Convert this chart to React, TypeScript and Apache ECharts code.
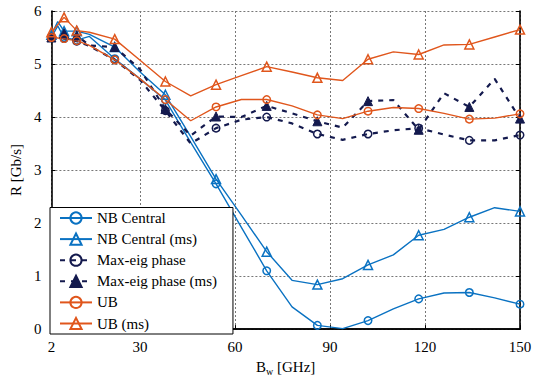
import React, { useEffect, useRef } from "react";
import * as echarts from "echarts";

const xs = [2, 4, 6, 10, 14, 22, 30, 38, 46, 54, 62, 70, 78, 86, 94, 102, 110, 118, 126, 134, 142, 150];
const markerXs = [2, 6, 10, 22, 38, 54, 70, 86, 102, 118, 134, 150];

const nbCentral = [5.5, 5.72, 5.5, 5.45, 5.52, 5.1, 4.72, 4.32, 3.52, 2.74, 1.92, 1.1, 0.42, 0.07, 0.01, 0.16, 0.38, 0.57, 0.68, 0.69, 0.59, 0.47];
const nbCentralMs = [5.55, 5.8, 5.62, 5.62, 5.56, 5.32, 4.85, 4.42, 3.63, 2.83, 2.15, 1.46, 0.92, 0.84, 0.95, 1.21, 1.4, 1.77, 1.88, 2.11, 2.29, 2.22];
const maxEig = [5.5, 5.49, 5.48, 5.43, 5.34, 5.08, 4.7, 4.12, 3.5, 3.79, 3.95, 4.0, 3.88, 3.68, 3.57, 3.68, 3.75, 3.79, 3.67, 3.56, 3.56, 3.66];
const maxEigMs = [5.5, 5.55, 5.58, 5.54, 5.35, 5.32, 4.9, 4.15, 3.65, 4.01, 4.0, 4.21, 4.07, 3.92, 3.8, 4.3, 4.32, 3.76, 4.45, 4.19, 4.72, 3.97];
const ub = [5.5, 5.49, 5.48, 5.44, 5.35, 5.08, 4.72, 4.33, 3.93, 4.19, 4.33, 4.33, 4.21, 4.04, 3.97, 4.11, 4.18, 4.16, 4.07, 3.96, 3.98, 4.06];
const ubMs = [5.6, 5.74, 5.88, 5.63, 5.6, 5.47, 5.07, 4.67, 4.4, 4.61, 4.78, 4.95, 4.85, 4.74, 4.69, 5.09, 5.23, 5.18, 5.36, 5.37, 5.51, 5.65];

const seriesNames = ["NB Central", "NB Central (ms)", "Max-eig phase", "Max-eig phase (ms)", "UB", "UB (ms)"];
const xTicks = [2, 30, 60, 90, 120, 150];

const BLUE = "#0a72c2";
const NAVY = "#141a4e";
const ORANGE = "#e0561c";
const FONT = "Times New Roman, Liberation Serif, Tinos, DejaVu Serif, Noto Serif, serif";

function buildData(vals: number[]) {
  return xs.map((x, i) =>
    markerXs.includes(x) ? { value: [x, vals[i]] } : { value: [x, vals[i]], symbol: "none" }
  );
}

function mkSeries(name: string, vals: number[], color: string, symbol: string, filled: boolean, dashed: boolean) {
  return {
    name,
    type: "line",
    data: buildData(vals),
    color,
    symbol,
    symbolSize: symbol === "triangle" ? 9 : 7.5,
    showSymbol: true,
    lineStyle: { color, width: dashed ? 2.2 : 1.4, type: dashed ? [5, 6] : "solid" },
    itemStyle: filled
      ? { color, borderColor: color, borderWidth: 1 }
      : { color: "rgba(255,255,255,0)", borderColor: color, borderWidth: 1.5 },
    emphasis: { disabled: true },
  };
}

export default function App() {
  const ref = useRef<HTMLDivElement>(null);
  useEffect(() => {
    document.body.style.margin = "0";
    const chart = echarts.init(ref.current!, null, { renderer: "svg" });
    const axisLine = { show: true, lineStyle: { color: "#000", width: 1.6 } };
    chart.setOption({
      animation: false,
      backgroundColor: "#fff",
      textStyle: { fontFamily: FONT },
      grid: { left: 41, right: 25, top: 11, bottom: 46.5 },
      legend: {
        data: seriesNames,
        orient: "vertical",
        left: 50,
        top: 207.5,
        itemWidth: 32,
        itemHeight: 14,
        itemGap: 6.1,
        padding: [3, 16, 3, 9],
        backgroundColor: "#fff",
        borderColor: "#000",
        borderWidth: 1,
        borderRadius: 0,
        textStyle: { fontFamily: FONT, fontSize: 15, color: "#000" },
      },
      xAxis: [
        {
          type: "value",
          min: 2,
          max: 150,
          name: "B{s|w} [GHz]",
          nameLocation: "middle",
          nameGap: 15,
          nameTextStyle: {
            fontFamily: FONT,
            fontSize: 15,
            color: "#000",
            rich: { s: { fontFamily: FONT, fontSize: 10, padding: [9, 0, 0, 0], color: "#000" } },
          },
          axisLine,
          axisTick: { show: true, inside: true, length: 4, customValues: xTicks, lineStyle: { color: "#000" } },
          axisLabel: { customValues: xTicks, fontFamily: FONT, fontSize: 15, color: "#000", margin: 10 },
          splitLine: { show: true, lineStyle: { color: "#777", width: 1, type: [2, 2] } },
        },
        {
          type: "value",
          position: "top",
          min: 2,
          max: 150,
          axisLine,
          axisTick: { show: false },
          axisLabel: { show: false },
          splitLine: { show: false },
        },
      ],
      yAxis: [
        {
          type: "value",
          min: 0,
          max: 6,
          interval: 1,
          name: "R [Gb/s]",
          nameLocation: "middle",
          nameGap: 18,
          nameTextStyle: { fontFamily: FONT, fontSize: 15, color: "#000" },
          axisLine,
          axisTick: { show: true, inside: true, length: 4, lineStyle: { color: "#000" } },
          axisLabel: { fontFamily: FONT, fontSize: 15, color: "#000", margin: 10 },
          splitLine: { show: true, lineStyle: { color: "#777", width: 1, type: [2, 2] } },
        },
        {
          type: "value",
          position: "right",
          min: 0,
          max: 6,
          interval: 1,
          axisLine,
          axisTick: { show: true, inside: true, length: 4, lineStyle: { color: "#000" } },
          axisLabel: { show: false },
          splitLine: { show: false },
        },
      ],
      series: [
        mkSeries(seriesNames[0], nbCentral, BLUE, "circle", false, false),
        mkSeries(seriesNames[1], nbCentralMs, BLUE, "triangle", false, false),
        mkSeries(seriesNames[2], maxEig, NAVY, "circle", false, true),
        mkSeries(seriesNames[3], maxEigMs, NAVY, "triangle", true, true),
        mkSeries(seriesNames[4], ub, ORANGE, "circle", false, false),
        mkSeries(seriesNames[5], ubMs, ORANGE, "triangle", false, false),
      ],
    });
    return () => chart.dispose();
  }, []);
  return <div ref={ref} style={{ width: 545, height: 381 }} />;
}
